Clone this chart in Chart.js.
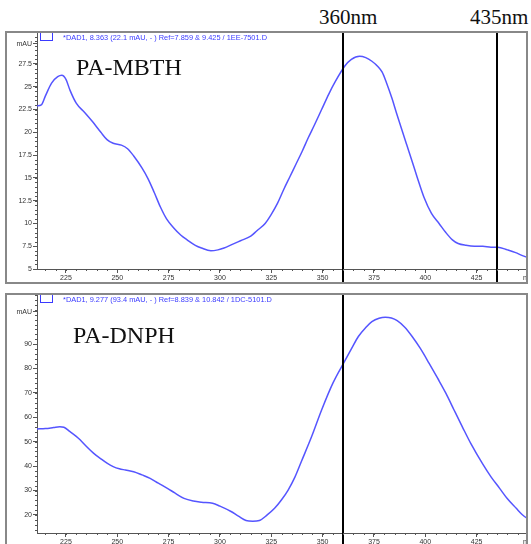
<!DOCTYPE html>
<html>
<head>
<meta charset="utf-8">
<script src="https://cdn.jsdelivr.net/npm/chart.js@4/dist/chart.umd.min.js"></script>
<style>
  body { margin: 0; width: 531px; height: 544px; overflow: hidden; background: #fff; position: relative; }
  .panel { position: absolute; left: 5px; width: 523px; border: 2px solid #888; box-sizing: border-box; overflow: hidden; background: #fff; }
  .panel canvas { position: absolute; left: 0; top: 0; }
  .head { position: absolute; left: 56px; top: 0px; font: 7.4px 'Liberation Sans', Arial, sans-serif; color: #3a3aff; white-space: nowrap; }
  .legbox { position: absolute; left: 33px; top: -1px; width: 11px; height: 7px; border: 1px solid #3a3aff; }
  .name { position: absolute; font: 24px 'Liberation Serif', 'Times New Roman', serif; color: #111; }
  .mark { position: absolute; top: 5px; font: 21px 'Liberation Serif', 'Times New Roman', serif; color: #111; }
</style>
</head>
<body>
<div class="mark" style="left:319px">360nm</div>
<div class="mark" style="left:470px">435nm</div>

<div class="panel" style="top:31px; height:253px">
  <canvas id="topChart" width="522" height="249"></canvas>
  <div class="legbox"></div>
  <div class="head">*DAD1, 8.363 (22.1 mAU, - ) Ref=7.859 &amp; 9.425 / 1EE-7501.D</div>
  <div class="name" style="left:69px; top:21px">PA-MBTH</div>
</div>

<div class="panel" style="top:293px; height:260px">
  <canvas id="bottomChart" width="522" height="251"></canvas>
  <div class="legbox"></div>
  <div class="head">*DAD1, 9.277 (93.4 mAU, - ) Ref=8.839 &amp; 10.842 / 1DC-5101.D</div>
  <div class="name" style="left:66px; top:27px">PA-DNPH</div>
</div>

<script>
// PA-MBTH spectrum (wavelength nm, absorbance mAU)
const mbthNm = [210.9, 213, 215, 218, 221, 223, 225, 227, 230, 234, 238, 242, 245, 248, 252, 255, 258, 262,
  265, 268, 271, 274, 277.5, 281, 284, 288, 291, 295.6, 299, 302, 306, 310, 315, 318, 322, 325, 328, 331,
  334, 337, 340, 343, 346, 349.5, 353, 356, 360.9, 364, 368, 371, 374, 377, 379, 381, 383.8, 386, 388.7, 391, 393.6,
  396, 399.3, 403, 406.7, 410, 413.2, 416, 419.8, 424, 428, 432, 435.3, 440, 444, 447, 450.5];
const mbthMau = [22.9, 23.0, 24.0, 25.4, 26.1, 26.25, 25.8, 24.6, 23.2, 22.2, 21.15, 20.0, 19.2, 18.8, 18.6, 18.2, 17.4, 16.1,
  14.9, 13.4, 11.8, 10.5, 9.5, 8.7, 8.2, 7.6, 7.3, 7.0, 7.1, 7.3, 7.7, 8.1, 8.6, 9.2, 10.0, 11.0, 12.2, 13.7,
  15.1, 16.5, 17.9, 19.4, 20.8, 22.5, 24.2, 25.5, 27.3, 28.0, 28.35, 28.2, 27.8, 27.2, 26.6, 25.5, 23.7, 22.1, 20.2, 18.6, 16.8,
  15.1, 12.9, 11.1, 10.0, 9.0, 8.2, 7.8, 7.6, 7.5, 7.5, 7.4, 7.4, 7.1, 6.8, 6.5, 6.2];

// PA-DNPH spectrum
const dnphNm = [210.9, 215, 219, 222, 224, 227, 230, 232, 235, 238.4, 242, 245, 248, 251, 254, 258, 262, 266,
  270, 274.4, 278, 282.5, 287, 291, 296.4, 300, 305.4, 309, 312.7, 316, 319.2, 323, 326.6, 330, 333.2, 336.5,
  339.7, 344.6, 349.5, 355, 360.6, 364, 367.4, 371, 374, 377.5, 380.5, 383.5, 386.3, 390, 393.6, 397.5, 401.8,
  406, 410, 414, 418.1, 422.2, 428, 432, 436.2, 440, 444.3, 447, 450.5];
const dnphMau = [55.2, 55.4, 55.8, 56.1, 55.9, 54.1, 52.2, 50.7, 48.0, 45.3, 43.0, 41.2, 39.8, 38.9, 38.4, 37.7, 36.4, 35.0,
  33.0, 30.9, 29.0, 26.8, 25.7, 25.2, 24.8, 23.6, 21.4, 19.5, 17.7, 17.4, 17.7, 20.0, 22.7, 26.2, 30.2, 35.5,
  42.0, 52.0, 63.0, 74.0, 82.8, 88.0, 93.1, 96.8, 99.2, 100.6, 101.0, 100.7, 99.6, 96.9, 93.1, 88.3, 82.2,
  76.0, 69.9, 63.0, 56.0, 49.2, 40.8, 35.6, 30.9, 26.6, 22.7, 20.3, 18.0];

const xTickStep = 25;
const markersTop = [360, 435];
const markersBottom = [360];
// where the "mAU" unit label sits on each y axis
const topUnitAt = 29.7;
const bottomUnitAt = 103.2;

const lineBlue = 'rgba(85, 85, 255, 1)';
const axisGrey = '#555';

// tall black marker lines at given wavelengths
const markerLines = {
    id: 'markerLines',
    afterDatasetsDraw(chart, args, opts) {
        const ctx = chart.ctx;
        const x = chart.scales.x;
        ctx.save();
        ctx.strokeStyle = '#000';
        ctx.lineWidth = 2;
        opts.at.forEach(v => {
            const px = Math.round(x.getPixelForValue(v));
            ctx.beginPath();
            ctx.moveTo(px, 0);
            ctx.lineTo(px, chart.height);
            ctx.stroke();
        });
        ctx.restore();
    }
};

// small minor tick marks along both axes
const minorTicks = {
    id: 'minorTicks',
    afterDraw(chart, args, opts) {
        const ctx = chart.ctx;
        const { x, y } = chart.scales;
        ctx.save();
        ctx.strokeStyle = axisGrey;
        ctx.lineWidth = 1;
        ctx.beginPath();
        for (let v = Math.ceil(x.min / opts.xStep) * opts.xStep; v <= x.max; v += opts.xStep) {
            const px = Math.round(x.getPixelForValue(v)) + 0.5;
            ctx.moveTo(px, x.top);
            ctx.lineTo(px, x.top + 2);
        }
        for (let v = Math.ceil(y.min / opts.yStep) * opts.yStep; v <= y.max; v += opts.yStep) {
            const py = Math.round(y.getPixelForValue(v)) + 0.5;
            ctx.moveTo(y.right - 2, py);
            ctx.lineTo(y.right, py);
        }
        ctx.stroke();
        ctx.restore();
    }
};

function makeChart(id, nm, mau, yMin, yMax, yStep, yMinor, unitAt, markers) {
    const ctx = document.getElementById(id).getContext('2d');
    return new Chart(ctx, {
        type: 'line',
        data: {
            datasets: [{
                data: nm.map((w, i) => ({ x: w, y: mau[i] })),
                borderColor: lineBlue,
                borderWidth: 1.5,
                pointRadius: 0,
                cubicInterpolationMode: 'monotone',
                fill: false
            }]
        },
        options: {
            responsive: false,
            animation: false,
            layout: { padding: 0 },
            plugins: {
                legend: { display: false },
                tooltip: { enabled: false },
                markerLines: { at: markers },
                minorTicks: { xStep: 5, yStep: yMinor }
            },
            scales: {
                x: {
                    type: 'linear',
                    min: 210.9,
                    max: 450.5,
                    border: { display: true, color: axisGrey, width: 1 },
                    grid: { drawOnChartArea: false, tickLength: 4, tickColor: axisGrey },
                    ticks: {
                        stepSize: xTickStep,
                        includeBounds: false,
                        maxRotation: 0,
                        autoSkip: false,
                        padding: 1,
                        color: '#333',
                        font: { family: "'Liberation Sans', Arial", size: 7 },
                        callback: v => (v === 450 ? 'nm' : String(v))
                    },
                    afterFit: s => { s.height = 13; s.paddingLeft = 0; s.paddingRight = 0; }
                },
                y: {
                    min: yMin,
                    max: yMax,
                    border: { display: true, color: axisGrey, width: 1 },
                    grid: { drawOnChartArea: false, tickLength: 4, tickColor: axisGrey },
                    ticks: {
                        stepSize: yStep,
                        includeBounds: false,
                        padding: 1,
                        color: '#333',
                        font: { family: "'Liberation Sans', Arial", size: 7 },
                        callback: v => (v === unitAt ? 'mAU' : String(v))
                    },
                    afterBuildTicks: s => {
                        s.ticks = s.ticks.filter(t => t.value < unitAt - yStep * 0.6);
                        s.ticks.push({ value: unitAt });
                    },
                    afterFit: s => { s.width = 30; s.paddingTop = 0; s.paddingBottom = 0; }
                }
            }
        },
        plugins: [markerLines, minorTicks]
    });
}

makeChart('topChart', mbthNm, mbthMau, 5, 30.9, 2.5, 0.5, topUnitAt, markersTop);
makeChart('bottomChart', dnphNm, dnphMau, 12.6, 110.1, 10, 2, bottomUnitAt, markersBottom);
</script>
</body>
</html>
